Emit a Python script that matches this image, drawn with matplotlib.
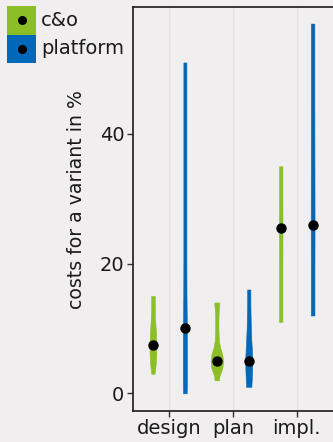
import matplotlib
matplotlib.use("Agg")
import matplotlib.pyplot as plt
from matplotlib.patches import Rectangle
import numpy as np

# --- data ---------------------------------------------------------------
phases = ["design", "plan", "impl."]
groups = ["c&o", "platform"]
colors = {"c&o": "#8cbf26", "platform": "#0068b8"}

# median cost per phase (%)
median_co = [7.5, 5.0, 25.5]
median_platform = [10.0, 5.0, 26.0]

# violin outlines: cost levels (%) and relative density (half width)
design_co_y = [3, 4, 5, 6, 7, 8, 9, 10, 11, 12, 13, 14, 15]
design_co_w = [1.6, 2.4, 3.0, 3.3, 3.4, 3.3, 3.1, 2.7, 2.3, 2.0, 1.9, 1.8, 1.8]
design_pf_y = [0, 2, 5, 8, 10, 12, 15, 20, 30, 40, 51]
design_pf_w = [1.8, 2.0, 2.0, 2.0, 1.9, 1.8, 1.6, 1.5, 1.5, 1.5, 1.5]

plan_co_y = [2, 2.6, 3.2, 4, 5, 6, 7, 8, 9, 10, 11, 12, 13, 13.6, 14]
plan_co_w = [2.3, 2.5, 4.0, 5.6, 6.2, 5.4, 3.4, 2.2, 1.8, 1.6, 1.6, 1.7, 2.0, 2.5, 2.5]
plan_pf_y = [1, 2, 3, 4, 5, 6, 7, 8, 10, 12, 14, 16]
plan_pf_w = [2.6, 2.9, 3.2, 3.4, 3.5, 3.3, 3.0, 2.6, 2.1, 1.8, 1.6, 1.6]

impl_co_y = [11, 15, 20, 25, 30, 35]
impl_co_w = [1.7, 1.7, 1.7, 1.8, 1.7, 1.7]
impl_pf_y = [12, 20, 26, 35, 45, 57]
impl_pf_w = [1.8, 1.8, 1.9, 1.8, 1.7, 1.7]

profiles_co = [(design_co_y, design_co_w), (plan_co_y, plan_co_w), (impl_co_y, impl_co_w)]
profiles_pf = [(design_pf_y, design_pf_w), (plan_pf_y, plan_pf_w), (impl_pf_y, impl_pf_w)]

yticks = [0, 20, 40]
ylabel = "costs for a variant in %"

# --- figure -------------------------------------------------------------
bg = "#f0eeef"
W, H = 333, 442
fig = plt.figure(figsize=(W / 100, H / 100), dpi=100, facecolor=bg)
ax = fig.add_axes([132.7 / W, (H - 411) / H, (W - 132.7 + 2) / W, (411 - 6.7) / H],
                  facecolor=bg)

dodge = 0.25
px = 1 / 63.5  # one pixel in x data units

def violin(xc, ys, ws, color):
    ys = np.asarray(ys, float)
    ws = np.asarray(ws, float) * px
    ax.fill_betweenx(ys, xc - ws, xc + ws, color=color, lw=0.4, edgecolor=color, zorder=3)

for i in range(len(phases)):
    violin(i - dodge, *profiles_co[i], colors["c&o"])
    violin(i + dodge, *profiles_pf[i], colors["platform"])
    ax.plot([i - dodge], [median_co[i]], "o", color="black", ms=6.5, zorder=4)
    ax.plot([i + dodge], [median_platform[i]], "o", color="black", ms=6.5, zorder=4)

ax.set_xlim(-0.567, 2.6)
ax.set_ylim(-2.73, 59.6)
ax.set_xticks(range(len(phases)))
ax.set_xticklabels(phases)
ax.set_yticks(yticks)
ax.grid(axis="x", color="#e3e1e2", lw=1.0, zorder=0)
ax.tick_params(axis="both", length=4, width=1, color="#333333", labelsize=14,
               labelcolor="#1a1a1a", pad=2)
for s in ["left", "bottom", "top"]:
    ax.spines[s].set_color("#1a1a1a")
    ax.spines[s].set_linewidth(1.2)
ax.spines["right"].set_visible(False)
ax.set_ylabel(ylabel, fontsize=13.6, color="#1a1a1a")
ax.yaxis.set_label_coords(-0.233, 0.522)

# legend keys drawn in figure pixels
for k, g in enumerate(groups):
    top = 6 + k * 28.5
    fig.patches.append(Rectangle((7 / W, 1 - (top + 28.5) / H), 29 / W, 28.5 / H,
                                 transform=fig.transFigure, facecolor=colors[g],
                                 edgecolor="none"))
    fig.lines.append(plt.Line2D([21.5 / W], [1 - (top + 14.3) / H], marker="o",
                                color="black", ms=5.5, transform=fig.transFigure))
    fig.text(41 / W, 1 - (top + 14.3) / H, g, fontsize=14, color="#1a1a1a",
             va="center", ha="left")

fig.savefig("out.png", dpi=100, facecolor=bg)
